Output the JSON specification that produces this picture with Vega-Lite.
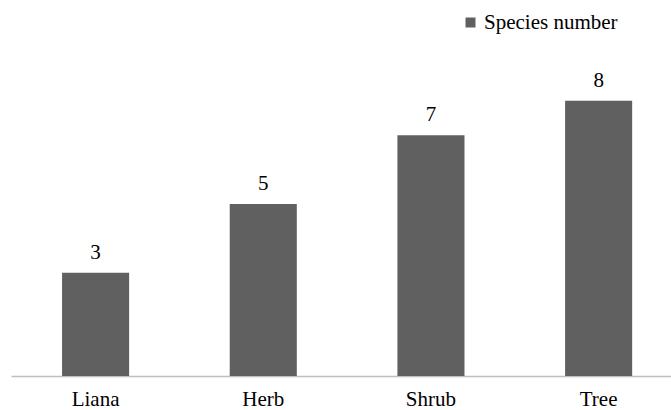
{
  "$schema": "https://vega.github.io/schema/vega-lite/v6.json",
  "width": 660,
  "height": 344,
  "autosize": "none",
  "padding": {"left": 11, "top": 32, "right": 0, "bottom": 34},
  "background": "white",
  "config": {"view": {"stroke": null}, "font": "Liberation Serif"},
  "data": {"values": [
    {"type": "Liana", "n": 3},
    {"type": "Herb", "n": 5},
    {"type": "Shrub", "n": 7},
    {"type": "Tree", "n": 8}
  ]},
  "encoding": {
    "x": {"field": "type", "type": "nominal", "sort": null,
      "scale": {"paddingInner": 0.6, "paddingOuter": 0.268, "align": 0.568},
      "axis": {"title": null, "labelAngle": 0, "labelFont": "Liberation Serif", "labelFontSize": 21, "labelColor": "#000", "ticks": false, "domainColor": "#bfbfbf", "domainWidth": 1.5, "labelPadding": 12}},
    "y": {"field": "n", "type": "quantitative", "scale": {"domain": [0, 10]}, "axis": null}
  },
  "layer": [
    {"mark": {"type": "bar", "color": "#606060"},
     "encoding": {"color": {"datum": "Species number", "type": "nominal",
       "scale": {"range": ["#606060"]},
       "legend": {"title": null, "orient": "none", "legendX": 449, "legendY": -20, "symbolType": "square", "symbolSize": 100, "labelFont": "Liberation Serif", "labelFontSize": 21, "labelColor": "#000", "padding": 0, "labelOffset": 3}}}},
    {"mark": {"type": "text", "dy": -14, "baseline": "alphabetic", "font": "Liberation Serif", "fontSize": 21, "color": "#000"},
     "encoding": {"text": {"field": "n", "type": "quantitative"}}}
  ]
}
